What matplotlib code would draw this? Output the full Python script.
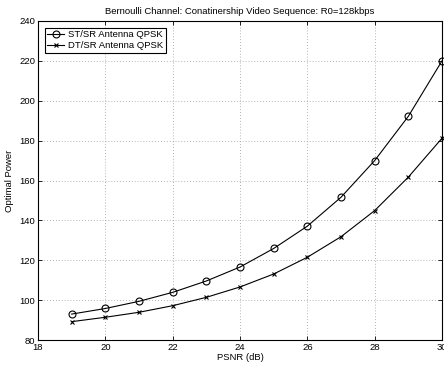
import matplotlib
matplotlib.use("Agg")
import matplotlib.pyplot as plt

psnr = [19, 20, 21, 22, 23, 24, 25, 26, 27, 28, 29, 30]
st_power = [93.0, 95.8, 99.4, 103.9, 109.6, 116.6, 125.9, 137.1, 151.6, 170.0, 192.2, 220.0]
dt_power = [89.2, 91.4, 93.9, 97.2, 101.4, 106.6, 113.1, 121.5, 131.8, 144.9, 161.7, 181.2]
xticks = [18, 20, 22, 24, 26, 28, 30]
yticks = [80, 100, 120, 140, 160, 180, 200, 220, 240]

plt.rcParams['font.family'] = ['Liberation Sans', 'DejaVu Sans']
plt.rcParams['font.size'] = 6.8

fig = plt.figure(figsize=(4.44, 3.65), dpi=100)
ax = fig.add_axes([38/444, 1-340/365, (442-38)/444, (340-21)/365])

ax.plot(psnr, st_power, color='black', lw=0.8, marker='o', ms=5, mfc='none', mec='black', mew=0.8,
        label='ST/SR Antenna QPSK', clip_on=False)
ax.plot(psnr, dt_power, color='black', lw=0.8, marker='x', ms=3.5, mec='black', mew=0.8,
        label='DT/SR Antenna QPSK', clip_on=False)

ax.set_xlim(18, 30)
ax.set_ylim(80, 240)
ax.set_xticks(xticks)
ax.set_yticks(yticks)
ax.tick_params(direction='in', top=True, right=True, length=3, width=0.6, labelsize=6.8, pad=2)
ax.grid(True, linestyle=(0, (1, 2.5)), color='#999999', lw=0.6)
for s in ax.spines.values():
    s.set_linewidth(0.8)

ax.set_title('Bernoulli Channel: Conatinership Video Sequence: R0=128kbps', fontsize=6.8, pad=5)
ax.set_xlabel('PSNR (dB)', fontsize=6.8, labelpad=1)
ax.set_ylabel('Optimal Power', fontsize=6.8, labelpad=4)

leg = ax.legend(loc='upper left', fontsize=6.8, frameon=True, fancybox=False, edgecolor='black',
                framealpha=1, borderpad=0.3, handlelength=1.8, handletextpad=0.4, labelspacing=0.2,
                borderaxespad=0.7)
leg.get_frame().set_linewidth(0.8)

fig.savefig('out.png', dpi=100)
